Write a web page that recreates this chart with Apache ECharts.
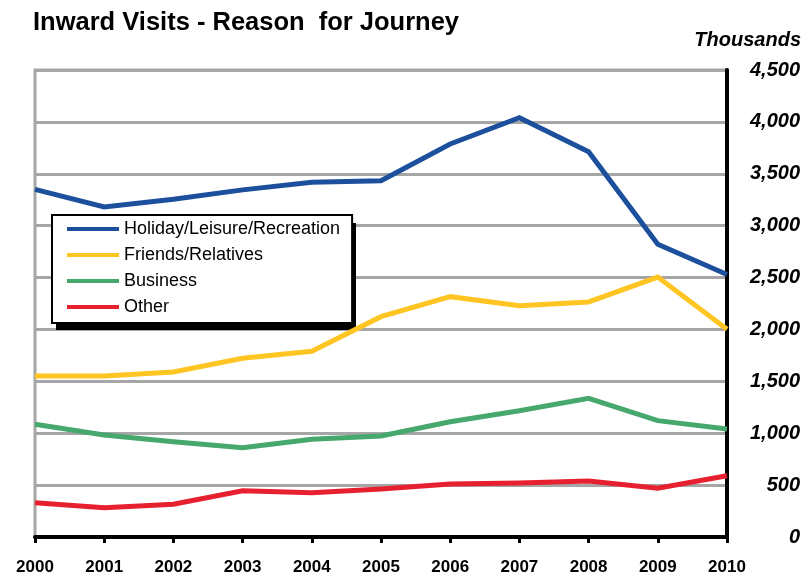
<!DOCTYPE html>
<html>
<head>
<meta charset="utf-8">
<script src="https://cdn.jsdelivr.net/npm/echarts@6/dist/echarts.min.js"></script>
<style>
  html, body { margin: 0; padding: 0; background: #fff; }
  #chart { width: 807px; height: 578px; }
</style>
</head>
<body>
<div id="chart"></div>
<script>
(function() {
  var years = ['2000', '2001', '2002', '2003', '2004', '2005', '2006', '2007', '2008', '2009', '2010'];
  var holiday = [3350, 3180, 3255, 3345, 3418, 3433, 3787, 4040, 3713, 2820, 2530];
  var friends = [1552, 1552, 1590, 1722, 1789, 2123, 2316, 2229, 2265, 2505, 2001];
  var business = [1086, 983, 918, 860, 941, 973, 1111, 1217, 1336, 1121, 1041];
  var other = [331, 282, 315, 446, 427, 463, 511, 520, 540, 469, 591];

  var font = '"Liberation Sans", Arial, Helvetica, sans-serif';

  function line(name, data, color) {
    return {
      name: name,
      type: 'line',
      data: data,
      symbol: 'none',
      lineStyle: { color: color, width: 5, join: 'miter' },
      itemStyle: { color: color }
    };
  }

  var chart = echarts.init(document.getElementById('chart'), null, { renderer: 'canvas' });
  chart.setOption({
    animation: false,
    backgroundColor: '#fff',
    textStyle: { fontFamily: font },
    title: [{
      text: 'Inward Visits - Reason  for Journey',
      left: 28,
      top: 5,
      textStyle: { fontFamily: font, fontSize: 25.5, fontWeight: 'bold', color: '#000' }
    }, {
      text: 'Thousands',
      right: 1,
      top: 25,
      textStyle: { fontFamily: font, fontSize: 20, fontWeight: 'bold', fontStyle: 'italic', color: '#000' }
    }],
    // drop shadow behind the legend box
    graphic: [{
      type: 'rect',
      z: 3,
      silent: true,
      shape: { x: 56, y: 223, width: 300, height: 107 },
      style: { fill: '#000' }
    }],
    legend: {
      orient: 'vertical',
      left: 52,
      top: 215,
      z: 4,
      padding: [5, 12, 7, 15],
      itemGap: 8,
      itemWidth: 52,
      itemHeight: 4,
      icon: 'rect',
      backgroundColor: '#fff',
      borderColor: '#000',
      borderWidth: 2,
      borderRadius: 0,
      textStyle: { fontFamily: font, fontSize: 18, lineHeight: 18, color: '#000' }
    },
    grid: {
      left: 35, right: 80, top: 70, bottom: 41,
      show: true,
      borderColor: '#a6a6a6',
      borderWidth: 3
    },
    xAxis: {
      type: 'category',
      data: years,
      boundaryGap: false,
      axisLine: { lineStyle: { color: '#000', width: 4 } },
      axisTick: { show: true, length: 6, lineStyle: { color: '#000', width: 3 } },
      axisLabel: { color: '#000', fontSize: 17, fontWeight: 'bold', margin: 22, fontFamily: font },
      splitLine: { show: false }
    },
    yAxis: {
      type: 'value',
      position: 'right',
      min: 0,
      max: 4500,
      interval: 500,
      axisLine: { show: true, lineStyle: { color: '#000', width: 4 } },
      axisTick: { show: false },
      axisLabel: {
        color: '#000', fontSize: 20, fontWeight: 'bold', fontStyle: 'italic',
        align: 'right', margin: 73, fontFamily: font,
        formatter: function(v) { return v.toLocaleString('en-US'); }
      },
      splitLine: { lineStyle: { color: '#a6a6a6', width: 3 } }
    },
    series: [
      line('Holiday/Leisure/Recreation', holiday, '#1c4f9c'),
      line('Friends/Relatives', friends, '#fec523'),
      line('Business', business, '#46a86c'),
      line('Other', other, '#e7202f')
    ]
  });
  window.addEventListener('resize', function() { chart.resize(); });
})();
</script>
</body>
</html>
